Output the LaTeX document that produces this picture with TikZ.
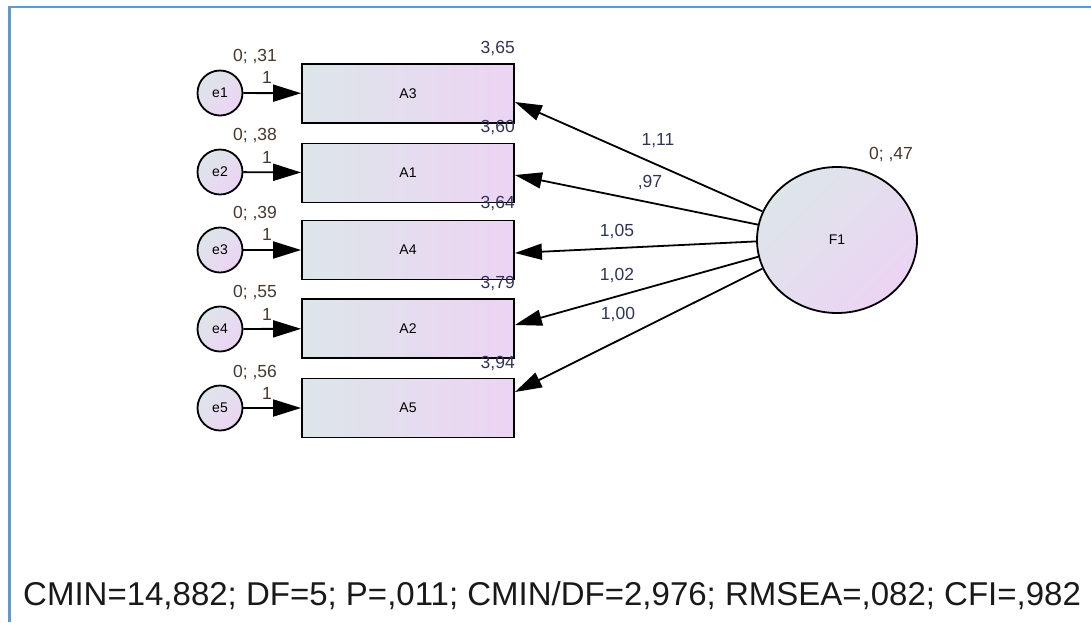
\documentclass[tikz,border=0pt]{standalone}
\usepackage{fontspec}
\setmainfont{Liberation Sans}
\usetikzlibrary{arrows.meta,shapes.geometric}

\definecolor{framecol}{RGB}{91,155,213}
\definecolor{fillleft}{RGB}{221,230,233}
\definecolor{fillright}{RGB}{236,212,244}
\definecolor{estcol}{RGB}{48,52,88}
\definecolor{varcol}{RGB}{70,56,44}

\tikzset{
  obsbox/.style={draw, line width=1.8pt, rectangle, minimum width=212pt, minimum height=59pt,
    left color=fillleft, right color=fillright, font=\fontsize{14}{16}\selectfont},
  errcirc/.style={draw, line width=1.8pt, circle, minimum size=45pt, inner sep=0pt,
    shading=axis, top color=fillleft, bottom color=fillright, shading angle=45,
    font=\fontsize{14}{16}\selectfont},
  latent/.style={draw, line width=1.8pt, ellipse, minimum width=160pt, minimum height=146pt,
    shading=axis, top color=fillleft, bottom color=fillright, shading angle=45,
    font=\fontsize{14}{16}\selectfont},
  path/.style={line width=1.8pt, -{Triangle[length=27pt,width=16pt]}},
  errpath/.style={line width=1.8pt, -{Triangle[length=28pt,width=17pt]}},
  estlabel/.style={text=estcol, font=\fontsize{17.5}{19}\selectfont, inner sep=0pt},
  varlabel/.style={text=varcol, font=\fontsize{17.5}{19}\selectfont, inner sep=0pt}
}

\begin{document}
\begin{tikzpicture}[x=1pt, y=-1pt]
  \useasboundingbox (0,0) rectangle (1091,622);
  % frame
  \draw [framecol, line width=2.6pt] (9.3,622) -- (9.3,7) -- (1091,7);

  % observed variables
  \node [obsbox] (A3) at (408,93.5) {A3};
  \node [obsbox] (A1) at (408,173) {A1};
  \node [obsbox] (A4) at (408,250) {A4};
  \node [obsbox] (A2) at (408,328.5) {A2};
  \node [obsbox] (A5) at (408,408) {A5};

  % error terms
  \node [errcirc] (e1) at (220,93) {e1};
  \node [errcirc] (e2) at (220,172) {e2};
  \node [errcirc] (e3) at (220,250) {e3};
  \node [errcirc] (e4) at (220,329) {e4};
  \node [errcirc] (e5) at (220,408) {e5};

  % latent factor
  \node [latent] (F1) at (837,240) {F1};

  \draw [errpath] (e1) -- (A3);
  \draw [errpath] (e2) -- (A1);
  \draw [errpath] (e3) -- (A4);
  \draw [errpath] (e4) -- (A2);
  \draw [errpath] (e5) -- (A5);

  \draw [path] (F1.159) -- ([yshift=-8.5pt]A3.east);
  \draw [path] (F1.169) -- ([yshift=-2pt]A1.east);
  \draw [path] (F1.181) -- ([yshift=-3pt]A4.east);
  \draw [path] (F1.192) -- ([yshift=3.5pt]A2.east);
  \draw [path] (F1.201) -- ([yshift=16pt]A5.east);

  % variances and intercepts
  \node [varlabel] (v1) at (255,57) {0; ,31};
  \node [varlabel] (v2) at (255,136) {0; ,38};
  \node [varlabel] (v3) at (255,214) {0; ,39};
  \node [varlabel] (v4) at (255,293) {0; ,55};
  \node [varlabel] (v5) at (255,372) {0; ,56};
  \node [varlabel] (w1) at (267,77) {1};
  \node [varlabel] (w2) at (267,157) {1};
  \node [varlabel] (w3) at (267,234) {1};
  \node [varlabel] (w4) at (267,314) {1};
  \node [varlabel] (w5) at (267,393) {1};
  \node [estlabel, anchor=east] (m1) at (515,49) {3,65};
  \node [estlabel, anchor=east] (m2) at (515,128) {3,60};
  \node [estlabel, anchor=east] (m3) at (515,204) {3,64};
  \node [estlabel, anchor=east] (m4) at (515,284) {3,79};
  \node [estlabel, anchor=east] (m5) at (515,363) {3,94};
  \node [varlabel] (vF) at (891,155) {0; ,47};

  % loadings
  \node [estlabel] (l1) at (658,141) {1,11};
  \node [estlabel] (l2) at (650,183) {,97};
  \node [estlabel] (l3) at (617,232) {1,05};
  \node [estlabel] (l4) at (617,276) {1,02};
  \node [estlabel] (l5) at (618,315) {1,00};

  % fit indices
  \node [anchor=base west, inner sep=0pt, font=\fontsize{33}{39}\selectfont, text=black!90] (fit) at (23,605)
    {CMIN=14,882; DF=5; P=,011; CMIN/DF=2,976; RMSEA=,082; CFI=,982};
\end{tikzpicture}
\end{document}
